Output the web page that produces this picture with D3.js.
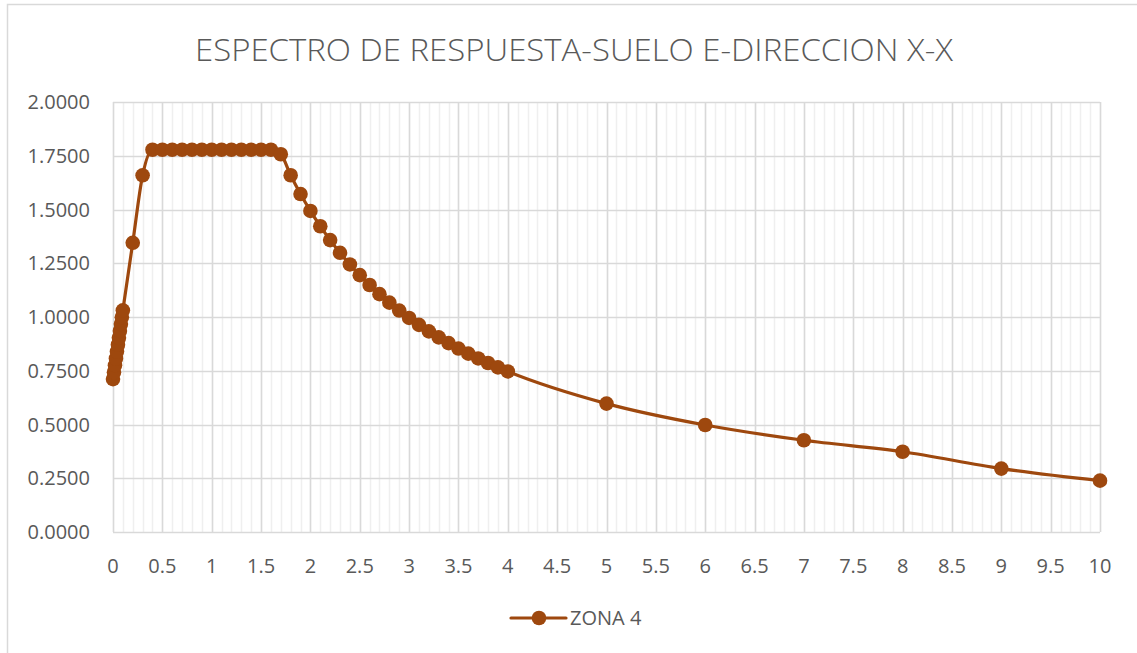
<!DOCTYPE html>
<html>
<head>
<meta charset="utf-8">
<script src="https://cdn.jsdelivr.net/npm/d3@7"></script>
<style>
  html, body { margin: 0; padding: 0; background: #fff; }
  svg { display: block; }
  text { font-family: "Open Sans", "Liberation Sans", sans-serif; }
</style>
</head>
<body>
<div id="chart"></div>
<script>
// periods T (s) and spectral acceleration Sa/g
var periods = [0, 0.01, 0.02, 0.03, 0.04, 0.05, 0.06, 0.07, 0.08, 0.09, 0.1,
  0.2, 0.3, 0.4, 0.5, 0.6, 0.7, 0.8, 0.9, 1.0, 1.1, 1.2, 1.3, 1.4, 1.5, 1.6,
  1.7, 1.8, 1.9, 2.0, 2.1, 2.2, 2.3, 2.4, 2.5, 2.6, 2.7, 2.8, 2.9, 3.0,
  3.1, 3.2, 3.3, 3.4, 3.5, 3.6, 3.7, 3.8, 3.9, 4.0,
  5, 6, 7, 8, 9, 10];
var zona4 = [0.7111, 0.7431, 0.7751, 0.8071, 0.8391, 0.8711, 0.9031, 0.9351, 0.9671, 0.9991, 1.0311,
  1.3451, 1.6591, 1.7778, 1.7778, 1.7778, 1.7778, 1.7778, 1.7778, 1.7778, 1.7778, 1.7778, 1.7778, 1.7778, 1.7778, 1.7778,
  1.7569, 1.6593, 1.5719, 1.4933, 1.4222, 1.3576, 1.2986, 1.2444, 1.1947, 1.1487, 1.1062, 1.0667, 1.0299, 0.9956,
  0.9634, 0.9333, 0.9051, 0.8784, 0.8533, 0.8296, 0.8072, 0.7860, 0.7658, 0.7467,
  0.5973, 0.4978, 0.4267, 0.3733, 0.2950, 0.2389];
var seriesName = 'ZONA 4';
var title = 'ESPECTRO DE RESPUESTA-SUELO E-DIRECCION X-X';
var yTicks = [0, 0.25, 0.5, 0.75, 1.0, 1.25, 1.5, 1.75, 2.0];
var xTicks = [0, 0.5, 1, 1.5, 2, 2.5, 3, 3.5, 4, 4.5, 5, 5.5, 6, 6.5, 7, 7.5, 8, 8.5, 9, 9.5, 10];
var xMinor = d3.range(0, 101).map(function(i){ return i / 10; });

var W = 1137, H = 653;
var color = '#9E480E';
var txt = '#595959';
var svg = d3.select('#chart').append('svg').attr('width', W).attr('height', H);

// chart frame
svg.append('rect').attr('x', 7.5).attr('y', 4.5).attr('width', W + 10).attr('height', H + 10)
  .attr('fill', '#fff').attr('stroke', '#D9D9D9').attr('stroke-width', 1.5);

var x = d3.scaleLinear().domain([0, 10]).range([113, 1100]);
var y = d3.scaleLinear().domain([0, 2]).range([532, 102]);

var g = svg.append('g');

// minor vertical grid
g.selectAll('line.minor').data(xMinor).join('line').attr('class', 'minor')
  .attr('x1', function(d){ return Math.round(x(d)) + 0.5; }).attr('x2', function(d){ return Math.round(x(d)) + 0.5; })
  .attr('y1', y(2)).attr('y2', y(0))
  .attr('stroke', '#EFEFEF').attr('stroke-width', 1.5);

// major vertical grid
g.selectAll('line.vmaj').data(xTicks).join('line').attr('class', 'vmaj')
  .attr('x1', function(d){ return Math.round(x(d)) + 0.5; }).attr('x2', function(d){ return Math.round(x(d)) + 0.5; })
  .attr('y1', y(2)).attr('y2', y(0))
  .attr('stroke', '#D9D9D9').attr('stroke-width', 1.5);

// horizontal grid
g.selectAll('line.hmaj').data(yTicks).join('line').attr('class', 'hmaj')
  .attr('x1', x(0)).attr('x2', x(10))
  .attr('y1', function(d){ return Math.round(y(d)) + 0.5; }).attr('y2', function(d){ return Math.round(y(d)) + 0.5; })
  .attr('stroke', '#D9D9D9').attr('stroke-width', 1.5);

// y tick labels
g.selectAll('text.ytick').data(yTicks).join('text').attr('class', 'ytick')
  .attr('x', 90).attr('y', function(d){ return y(d); }).attr('dy', '0.35em')
  .attr('text-anchor', 'end').attr('fill', txt).attr('font-size', '20px')
  .text(function(d){ return d3.format('.4f')(d); });

// x tick labels
g.selectAll('text.xtick').data(xTicks).join('text').attr('class', 'xtick')
  .attr('x', function(d){ return x(d); }).attr('y', 573)
  .attr('text-anchor', 'middle').attr('fill', txt).attr('font-size', '20px')
  .text(function(d){ return d; });

// series
var pts = periods.map(function(t, i){ return [t, zona4[i]]; });
var line = d3.line().x(function(d){ return x(d[0]); }).y(function(d){ return y(d[1]); })
  .curve(d3.curveMonotoneX);
g.append('path').datum(pts).attr('d', line).attr('fill', 'none')
  .attr('stroke', color).attr('stroke-width', 3.2).attr('stroke-linejoin', 'round');
g.selectAll('circle.pt').data(pts).join('circle').attr('class', 'pt')
  .attr('cx', function(d){ return x(d[0]); }).attr('cy', function(d){ return y(d[1]); })
  .attr('r', 7.3).attr('fill', color);

// title
svg.append('text').attr('x', 574).attr('y', 61).attr('text-anchor', 'middle')
  .attr('fill', txt).attr('font-size', '31px')
  .attr('textLength', 758).attr('lengthAdjust', 'spacingAndGlyphs')
  .style('font-family', '"Open Sans", sans-serif').style('font-weight', 300)
  .text(title);

// legend
var lg = svg.append('g').attr('transform', 'translate(511,618)');
lg.append('line').attr('x1', 0).attr('x2', 55).attr('y1', 0).attr('y2', 0)
  .attr('stroke', color).attr('stroke-width', 3.2).attr('stroke-linecap', 'round');
lg.append('circle').attr('cx', 28).attr('cy', 0).attr('r', 7.3).attr('fill', color);
lg.append('text').attr('x', 59).attr('y', 0).attr('dy', '0.35em')
  .attr('fill', txt).attr('font-size', '20px').text(seriesName);
</script>
</body>
</html>
